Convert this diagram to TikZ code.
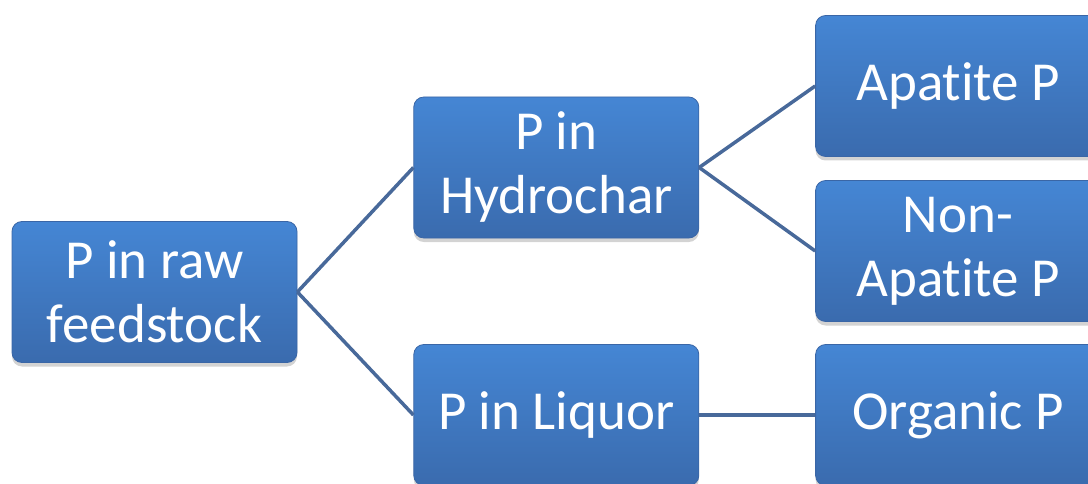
\documentclass[tikz,border=0pt]{standalone}
\usepackage{fontspec}
\setmainfont{Carlito}[Ligatures=NoCommon]
\usetikzlibrary{positioning,shadows}
\definecolor{PBoxTop}{HTML}{4586D4}
\definecolor{PBoxBottom}{HTML}{3A6BAE}
\definecolor{PBoxLine}{HTML}{3A66A6}
\definecolor{PLink}{HTML}{48699A}
\tikzset{
  pbox/.style={
    draw=PBoxLine,
    line width=0.8pt,
    top color=PBoxTop,
    bottom color=PBoxBottom,
    rounded corners=10pt,
    align=center,
    minimum width=285pt,
    minimum height=141pt,
    text=white,
    font=\fontsize{55}{64}\selectfont,
    drop shadow={shadow xshift=0pt,shadow yshift=-4pt,opacity=0.35}
  },
  plink/.style={draw=PLink,line width=3.5pt}
}
\begin{document}
\begin{tikzpicture}[x=1pt,y=-1pt,node distance=116pt]
  \clip (0,0) rectangle (1088,484);
  \useasboundingbox (0,0) rectangle (1088,484);
  \node[pbox] (raw) at (154.5,292) {P in raw\\feedstock};
  \node[pbox,right=of raw,yshift=124.5pt] (hydro) {P in\\Hydrochar};
  \node[pbox,right=of raw,yshift=-123pt] (liquor) {P in Liquor};
  \node[pbox,right=of hydro,yshift=81.5pt] (apatite) {Apatite P};
  \node[pbox,right=of hydro,yshift=-83.5pt] (nonap) {Non-\\Apatite P};
  \node[pbox,right=of liquor] (organic) {Organic P};
  \draw[plink] (raw.east) -- (hydro.west);
  \draw[plink] (raw.east) -- (liquor.west);
  \draw[plink] (hydro.east) -- (apatite.west);
  \draw[plink] (hydro.east) -- (nonap.west);
  \draw[plink] (liquor.east) -- (organic.west);
\end{tikzpicture}
\end{document}
